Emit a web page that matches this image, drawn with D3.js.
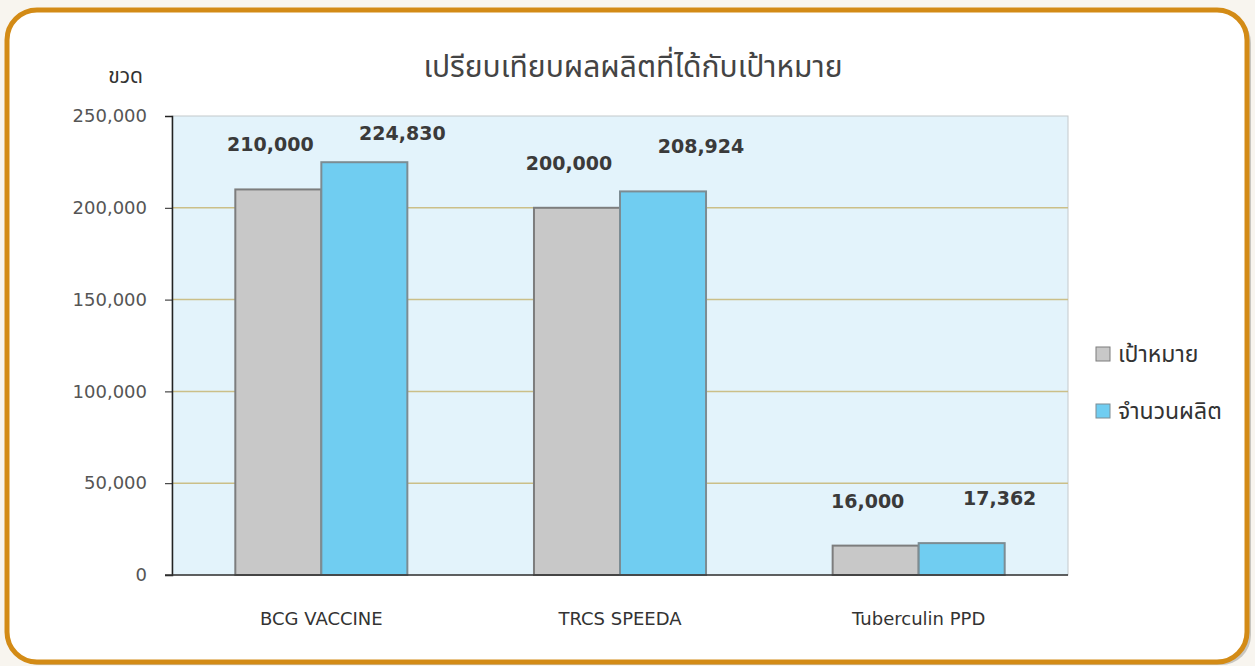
<!DOCTYPE html>
<html>
<head>
<meta charset="utf-8">
<script src="https://cdn.jsdelivr.net/npm/d3@7"></script>
<style>
  body { margin: 0; background: #f8f5ef; }
  svg { display: block; }
  text { font-family: "DejaVu Sans", "Noto Sans Thai", "Noto Sans", sans-serif; }
</style>
</head>
<body>
<div id="chart"></div>
<script>
// données
const categories = ["BCG VACCINE", "TRCS SPEEDA", "Tuberculin PPD"];
const seriesNames = ["เป้าหมาย", "จำนวนผลิต"];
const targetValues = [210000, 200000, 16000];
const producedValues = [224830, 208924, 17362];
const yTicks = [0, 50000, 100000, 150000, 200000, 250000];

const W = 1255, H = 666;
const plot = { left: 172, right: 1068, top: 116, bottom: 575 };
const colors = ["#c8c8c8", "#70cdf1"];
const strokes = ["#7d7d7d", "#7c8c93"];

const svg = d3.select("#chart").append("svg")
    .attr("width", W)
    .attr("height", H);

// cadre arrondi orange
svg.append("rect")
    .attr("x", 10).attr("y", 13)
    .attr("width", W - 14).attr("height", H - 14)
    .attr("rx", 30)
    .attr("fill", "#a9a6a0").attr("opacity", 0.6);
svg.append("rect")
    .attr("x", 7).attr("y", 10)
    .attr("width", W - 15).attr("height", H - 14)
    .attr("rx", 30)
    .attr("fill", "#fff")
    .attr("stroke", "#d38b16")
    .attr("stroke-width", 5);

const x0 = d3.scaleBand()
    .domain(categories)
    .range([plot.left, plot.right])
    .paddingInner(0.424)
    .paddingOuter(0.212);

const x1 = d3.scaleBand()
    .domain([0, 1])
    .range([0, x0.bandwidth()]);

const y = d3.scaleLinear()
    .domain([0, 250000])
    .range([plot.bottom, plot.top]);

// fond de la zone de tracé
svg.append("rect")
    .attr("x", plot.left).attr("y", plot.top)
    .attr("width", plot.right - plot.left)
    .attr("height", plot.bottom - plot.top)
    .attr("fill", "#e3f3fb")
    .attr("stroke", "#c4c9cc");

// lignes de grille
svg.append("g")
    .selectAll("line")
    .data(yTicks.filter(t => t > 0 && t < 250000))
    .enter().append("line")
    .attr("x1", plot.left).attr("x2", plot.right)
    .attr("y1", d => y(d)).attr("y2", d => y(d))
    .attr("stroke", "#cbbf88")
    .attr("stroke-width", 1.5);

// axe Y
const yAxis = svg.append("g")
    .attr("transform", `translate(${plot.left},0)`)
    .call(d3.axisLeft(y).tickValues(yTicks).tickSize(7).tickPadding(18)
        .tickFormat(d3.format(",")));
yAxis.select(".domain").attr("stroke", "#222").attr("stroke-width", 1.5);
yAxis.selectAll(".tick line").attr("stroke", "#222");
yAxis.selectAll("text")
    .attr("font-size", 18)
    .attr("fill", "#555")
    .style("font-family", "'DejaVu Sans', sans-serif");

// barres
const groups = svg.append("g")
    .selectAll("g")
    .data(categories.map((c, i) => ({ cat: c, vals: [targetValues[i], producedValues[i]] })))
    .enter().append("g")
    .attr("transform", d => `translate(${x0(d.cat)},0)`);

groups.selectAll("rect")
    .data(d => d.vals)
    .enter().append("rect")
    .attr("x", (d, i) => x1(i))
    .attr("y", d => y(d))
    .attr("width", x1.bandwidth())
    .attr("height", d => y(0) - y(d))
    .attr("fill", (d, i) => colors[i])
    .attr("stroke", (d, i) => strokes[i])
    .attr("stroke-width", 2);

// étiquettes des valeurs
const labelShift = [-8, 38];
groups.selectAll(".value-label")
    .data(d => d.vals)
    .enter().append("text")
    .attr("class", "value-label")
    .attr("x", (d, i) => x1(i) + x1.bandwidth() / 2 + labelShift[i])
    .attr("y", d => Math.max(y(d) - 38, plot.top + 24))
    .attr("text-anchor", "middle")
    .attr("font-size", 19)
    .attr("font-weight", "bold")
    .attr("fill", "#3a3a3a")
    .text(d => d3.format(",")(d));

// ligne de base
svg.append("line")
    .attr("x1", plot.left - 7).attr("x2", plot.right)
    .attr("y1", plot.bottom).attr("y2", plot.bottom)
    .attr("stroke", "#333")
    .attr("stroke-width", 1.5);

// catégories
svg.append("g")
    .selectAll("text")
    .data(categories)
    .enter().append("text")
    .attr("x", d => x0(d) + x0.bandwidth() / 2)
    .attr("y", 625)
    .attr("text-anchor", "middle")
    .attr("font-size", 18)
    .attr("fill", "#333")
    .text(d => d);

// titre et unité
svg.append("text")
    .attr("x", 633).attr("y", 77)
    .attr("text-anchor", "middle")
    .attr("font-size", 30)
    .attr("fill", "#444")
    .text("เปรียบเทียบผลผลิตที่ได้กับเป้าหมาย");

svg.append("text")
    .attr("x", 143).attr("y", 83)
    .attr("text-anchor", "end")
    .attr("font-size", 21)
    .attr("fill", "#333")
    .text("ขวด");

// légende
const legend = svg.append("g")
    .selectAll("g")
    .data(seriesNames)
    .enter().append("g")
    .attr("transform", (d, i) => `translate(1096,${347 + i * 57})`);

legend.append("rect")
    .attr("width", 14).attr("height", 14)
    .attr("fill", (d, i) => colors[i])
    .attr("stroke", (d, i) => strokes[i]);

legend.append("text")
    .attr("x", 22).attr("y", 15)
    .attr("font-size", 23)
    .attr("fill", "#333")
    .text(d => d);
</script>
</body>
</html>
